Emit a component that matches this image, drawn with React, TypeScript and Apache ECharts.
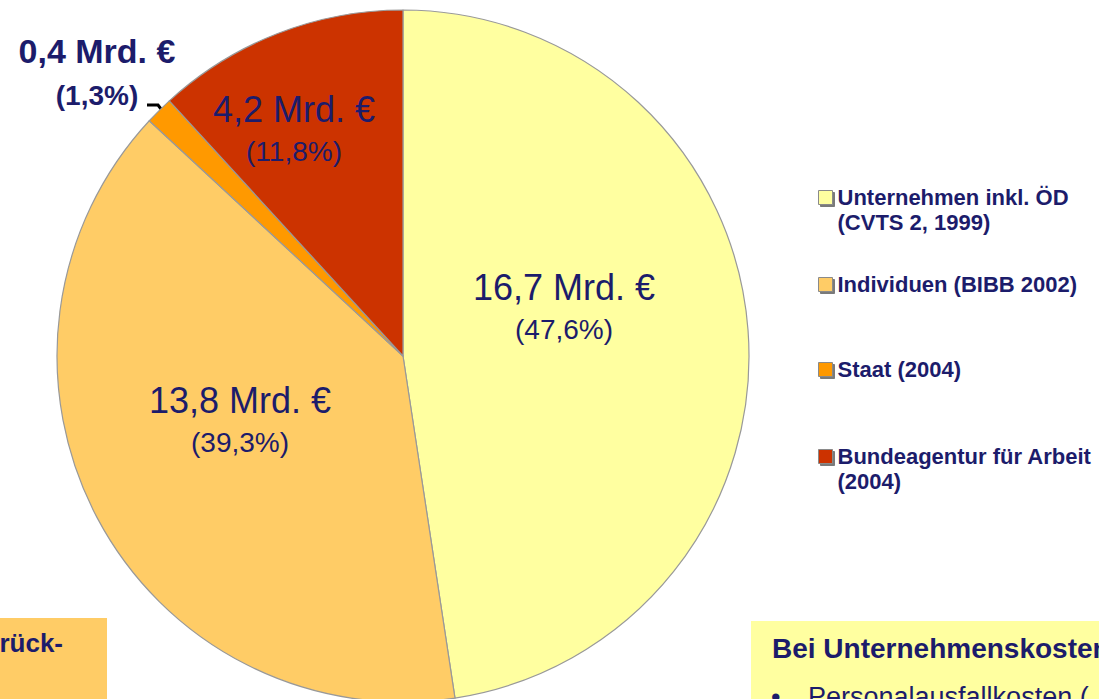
import React, { useEffect, useRef } from "react";
import * as echarts from "echarts";

const categories = [
  "Unternehmen inkl. ÖD (CVTS 2, 1999)",
  "Individuen (BIBB 2002)",
  "Staat (2004)",
  "Bundeagentur für Arbeit (2004)",
];
const legendLines = [
  ["Unternehmen inkl. ÖD", "(CVTS 2, 1999)"],
  ["Individuen (BIBB 2002)"],
  ["Staat (2004)"],
  ["Bundeagentur für Arbeit", "(2004)"],
];
const amounts = [16.7, 13.8, 0.4, 4.2]; // Mrd. €
const shares = [47.6, 39.3, 1.3, 11.8]; // %
const colors = ["#FFFFA0", "#FFCC66", "#FF9900", "#CC3300"];

const NAVY = "#1c1c6b";
const FONT = "'Liberation Sans', Arial, sans-serif";

const fmt = (v: number) => v.toFixed(1).replace(".", ",");

export default function App() {
  const ref = useRef<HTMLDivElement>(null);

  useEffect(() => {
    if (!ref.current) return;
    const chart = echarts.init(ref.current, null, { renderer: "svg" });

    const labelAnchors: Record<number, [number, number]> = {
      0: [564, 308],
      1: [240, 421],
      2: [97, 73],
      3: [294, 130],
    };
    const legendTops = [160, 272, 357, 419];

    const data = categories.map((name, i) => {
      const isSmall = i === 2;
      return {
        name,
        value: shares[i],
        itemStyle: { color: colors[i] },
        label: isSmall
          ? {
              position: "outside",
              formatter: `{a|${fmt(amounts[i])} Mrd. €}\n{b|(${fmt(shares[i])}%)}`,
              rich: {
                a: { fontSize: 34, fontWeight: "bold", color: NAVY, fontFamily: FONT, lineHeight: 45 },
                b: { fontSize: 28, fontWeight: "bold", color: NAVY, fontFamily: FONT, lineHeight: 45 },
              },
            }
          : {
              position: "inside",
              formatter: `{a|${fmt(amounts[i])} Mrd. €}\n{b|(${fmt(shares[i])}%)}`,
              rich: {
                a: { fontSize: 36, color: NAVY, fontFamily: FONT, lineHeight: 42 },
                b: { fontSize: 28, color: NAVY, fontFamily: FONT, lineHeight: 42 },
              },
            },
        labelLine: isSmall
          ? { show: true, lineStyle: { color: "#000", width: 3 } }
          : { show: false },
      };
    });

    const option: any = {
      animation: false,
      backgroundColor: "#ffffff",
      legend: categories.map((name, i) => ({
        data: [name],
        orient: "vertical",
        left: 818,
        top: legendTops[i],
        padding: 0,
        itemWidth: 14,
        itemHeight: 14,
        icon: "rect",
        selectedMode: false,
        itemStyle: {
          borderColor: "#8a8a8a",
          borderWidth: 1,
          shadowColor: "#7a7a7a",
          shadowOffsetX: 2,
          shadowOffsetY: 2,
          shadowBlur: 0,
        },
        textStyle: {
          fontSize: 22,
          fontWeight: "bold",
          color: NAVY,
          fontFamily: FONT,
          lineHeight: 25,
        },
        formatter: (n: string) => {
          const idx = categories.indexOf(n);
          const lines = legendLines[idx];
          return lines.length > 1 ? "\n" + lines.join("\n") : lines[0];
        },
      })),
      series: [
        {
          type: "pie",
          center: [403, 356],
          radius: 346,
          startAngle: 90,
          clockwise: true,
          avoidLabelOverlap: false,
          emphasis: { disabled: true },
          itemStyle: { borderColor: "#999999", borderWidth: 1.2 },
          data,
          labelLayout: (params: any) => {
            const p = labelAnchors[params.dataIndex];
            const out: any = {
              x: p[0],
              y: p[1],
              align: "center",
              verticalAlign: "middle",
            };
            if (params.dataIndex === 2) {
              out.labelLinePoints = [
                [147, 105],
                [158, 105],
                [161, 109],
              ];
            }
            return out;
          },
        },
      ],
      graphic: [
        {
          type: "rect",
          shape: { x: 0, y: 618, width: 107, height: 81 },
          style: { fill: "#FFCC66" },
        },
        {
          type: "text",
          x: 63,
          y: 643,
          style: {
            text: "rück-",
            fill: NAVY,
            font: `bold 26px ${FONT}`,
            align: "right",
            verticalAlign: "middle",
          },
        },
        {
          type: "rect",
          shape: { x: 751, y: 621, width: 348, height: 78 },
          style: { fill: "#FFFFA0" },
        },
        {
          type: "text",
          x: 772,
          y: 648,
          style: {
            text: "Bei Unternehmenskosten",
            fill: NAVY,
            font: `bold 28px ${FONT}`,
            align: "left",
            verticalAlign: "middle",
          },
        },
        {
          type: "text",
          x: 771,
          y: 697,
          style: {
            text: "•",
            fill: NAVY,
            font: `27px ${FONT}`,
            align: "left",
            verticalAlign: "middle",
          },
        },
        {
          type: "text",
          x: 808,
          y: 697,
          style: {
            text: "Personalausfallkosten (",
            fill: NAVY,
            font: `27px ${FONT}`,
            align: "left",
            verticalAlign: "middle",
          },
        },
      ],
    };

    chart.setOption(option);
    return () => chart.dispose();
  }, []);

  return (
    <div
      ref={ref}
      style={{ position: "absolute", left: 0, top: 0, width: 1099, height: 699, background: "#fff" }}
    />
  );
}
